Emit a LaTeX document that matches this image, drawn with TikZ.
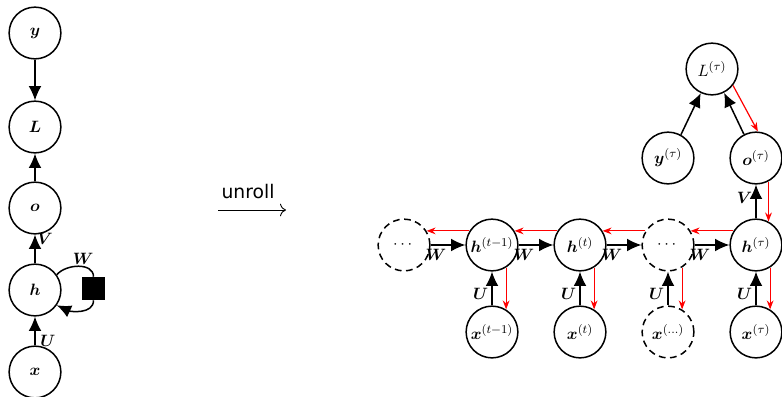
\documentclass[tikz,border=0pt]{standalone}
\usepackage{amsmath,bm}
\usepackage{fontspec}
\newfontfamily\labelsans{DejaVu Sans}
\usetikzlibrary{arrows.meta}
\tikzset{
  unit/.style={circle, draw, line width=1pt, minimum size=34.5pt, inner sep=0pt,
    font=\fontsize{11}{13}\selectfont},
  ghost/.style={unit, dash pattern=on 4.5pt off 3pt},
  fwd/.style={-{Latex[length=9.5pt,width=8.5pt]}, line width=1pt},
  bwd/.style={-{Stealth[length=6pt,width=4.5pt]}, red, line width=0.8pt},
  wlab/.style={inner sep=1pt, font=\fontsize{11}{13}\selectfont}
}
\begin{document}
\begin{tikzpicture}[x=0.6667pt,y=-0.6667pt]
\useasboundingbox (0,0) rectangle (782,396);

% folded graph
\node[unit] (y) at (35,33) {$\bm{y}$};
\node[unit] (L) at (35,127) {$\bm{L}$};
\node[unit] (o) at (35,208) {$\bm{o}$};
\node[unit] (h) at (35,290) {$\bm{h}$};
\node[unit] (x) at (35,372) {$\bm{x}$};
\node[fill=black, minimum size=15.3pt, inner sep=0pt] (sq) at (93.5,288.5) {};

\draw[fwd] (y) -- (L);
\draw[fwd] (o) -- (L);
\draw[fwd] (h) -- (o) node[pos=0.85, right, wlab] {$\bm{V}$};
\draw[fwd] (x) -- (h) node[pos=0.15, right, wlab, xshift=2pt] {$\bm{U}$};
\draw[line width=1pt] (h.35) to[out=50,in=90] node[pos=0.6, above, wlab] {$\bm{W}$} (sq.north);
\draw[fwd] (sq.south) to[out=-90,in=-25] (h.-35);

% unroll arrow
\node[font=\fontsize{12.5}{15}\selectfont] (ur) at (248,192) {\labelsans unroll};
\coordinate (ua) at (218,210);
\coordinate (ub) at (286,210);
\draw[-{To[length=4pt]}, line width=0.6pt] (ua) -- (ub);

% unfolded graph
\node[ghost] (d1) at (404,245) {$\cdots$};
\node[unit] (h1) at (492,245) {$\bm{h}^{(t-1)}$};
\node[unit] (h2) at (580,245) {$\bm{h}^{(t)}$};
\node[ghost] (d2) at (668,245) {$\cdots$};
\node[unit] (h3) at (756,245) {$\bm{h}^{(\tau)}$};
\node[unit] (x1) at (492,332) {$\bm{x}^{(t-1)}$};
\node[unit] (x2) at (580,332) {$\bm{x}^{(t)}$};
\node[ghost] (x3) at (668,332) {$\bm{x}^{(\ldots)}$};
\node[unit] (x4) at (756,332) {$\bm{x}^{(\tau)}$};
\node[unit] (o3) at (756,158) {$\bm{o}^{(\tau)}$};
\node[unit] (y3) at (668,158) {$\bm{y}^{(\tau)}$};
\node[unit] (L3) at (712,69) {$L^{(\tau)}$};

% forward edges
\foreach \a/\b in {d1/h1, h1/h2, h2/d2, d2/h3}
  \draw[fwd] (\a) -- (\b) node[pos=0.15, below, wlab, yshift=-1pt] {$\bm{W}$};
\draw[fwd] (x1) -- (h1) node[pos=0.35, left, wlab, xshift=-1pt] {$\bm{U}$};
\draw[fwd] (x2) -- (h2) node[pos=0.35, left, wlab, xshift=-1pt] {$\bm{U}$};
\draw[fwd] (x3) -- (d2) node[pos=0.35, left, wlab, xshift=-1pt] {$\bm{U}$};
\draw[fwd] (x4) -- (h3) node[pos=0.35, left, wlab, xshift=-1pt] {$\bm{U}$};
\draw[fwd] (h3) -- (o3) node[pos=0.6, left, wlab, xshift=-1pt] {$\bm{V}$};
\draw[fwd] (y3.61) -- (L3.245);
\draw[fwd] (o3.117) -- (L3.297);

% backward (gradient) edges
\draw[bwd] (h1.148) -- (d1.32);
\draw[bwd] (h2.148) -- (h1.32);
\draw[bwd] (d2.148) -- (h2.32);
\draw[bwd] (h3.148) -- (d2.32);
\draw[bwd] (h1.-58) -- (x1.58);
\draw[bwd] (h2.-58) -- (x2.58);
\draw[bwd] (d2.-58) -- (x3.58);
\draw[bwd] (h3.-58) -- (x4.58);
\draw[bwd] (L3.-38) -- (o3.86);
\draw[bwd] (o3.-62) -- (h3.62);
\end{tikzpicture}
\end{document}
